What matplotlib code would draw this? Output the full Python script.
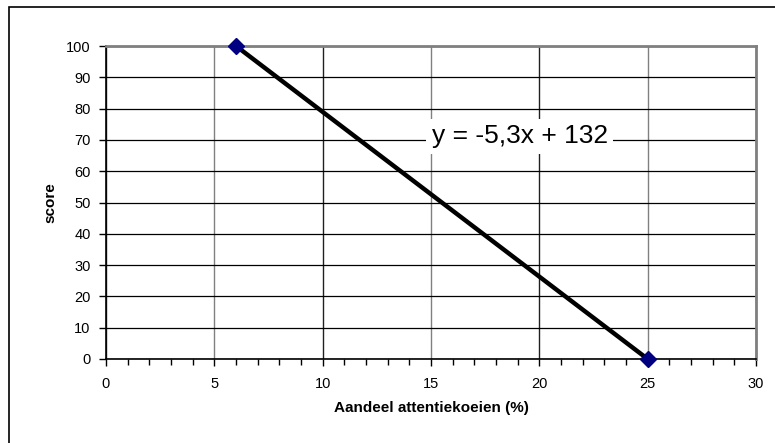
import matplotlib
matplotlib.use("Agg")
import matplotlib.pyplot as plt
from matplotlib.ticker import MultipleLocator
from matplotlib.patches import Rectangle

# === Data ===
aandeel = [6, 25]          # Aandeel attentiekoeien (%)
score = [100, 0]           # score
equation = "y = -5,3x + 132"

x_ticks = [0, 5, 10, 15, 20, 25, 30]
y_ticks = [0, 10, 20, 30, 40, 50, 60, 70, 80, 90, 100]

plt.rcParams['font.family'] = ['Liberation Sans', 'DejaVu Sans']

# === Figure ===
fig = plt.figure(figsize=(7.75, 4.43), dpi=100, facecolor='white')

# outer chart border (only left/top edges are inside the picture)
fig.patches.append(Rectangle((9 / 775, -0.1), 1.2, 1.1 - 7 / 443,
                             transform=fig.transFigure, fill=False,
                             edgecolor='black', linewidth=1.2))

ax = fig.add_axes([106 / 775, (443 - 359) / 443, 650 / 775, 313 / 443])
ax.set_facecolor('white')

# line + markers
ax.plot(aandeel, score, color='black', linewidth=3.2, zorder=3, clip_on=False)
ax.plot(aandeel, score, linestyle='none', marker='D', markersize=8,
        markerfacecolor='#000080', markeredgecolor='#000080', zorder=4, clip_on=False)

# axes limits and ticks
ax.set_xlim(0, 30)
ax.set_ylim(0, 100)
ax.set_xticks(x_ticks)
ax.set_yticks(y_ticks)
ax.xaxis.set_minor_locator(MultipleLocator(1))
ax.tick_params(axis='both', which='major', direction='out', length=5, width=1,
               labelsize=10.5, colors='black', pad=6)
ax.tick_params(axis='x', which='minor', direction='out', length=4, width=1)
ax.tick_params(axis='x', which='major', pad=8)

# grid
ax.grid(axis='y', color='black', linewidth=0.9, zorder=1)
ax.grid(axis='x', which='major', color='#808080', linewidth=1.0, zorder=1)
for i, gl in enumerate(ax.xaxis.get_gridlines()):
    gl.set_color('#202020' if i % 2 == 0 else '#808080')
ax.set_axisbelow(True)

# frame
ax.spines['left'].set_color('black')
ax.spines['left'].set_linewidth(1.2)
ax.spines['bottom'].set_color('black')
ax.spines['bottom'].set_linewidth(1.2)
for side in ['top', 'right']:
    ax.spines[side].set_color('#808080')
    ax.spines[side].set_linewidth(2)

# labels
ax.set_xlabel("Aandeel attentiekoeien (%)", fontsize=11, fontweight='bold', labelpad=7)
ax.set_ylabel("score", fontsize=11, fontweight='bold', labelpad=6)

# trendline equation
ax.text(19.1, 71.2, equation, fontsize=19, ha='center', va='center', zorder=5,
        bbox=dict(facecolor='white', edgecolor='none', pad=4))

plt.savefig("out.png", dpi=100)
